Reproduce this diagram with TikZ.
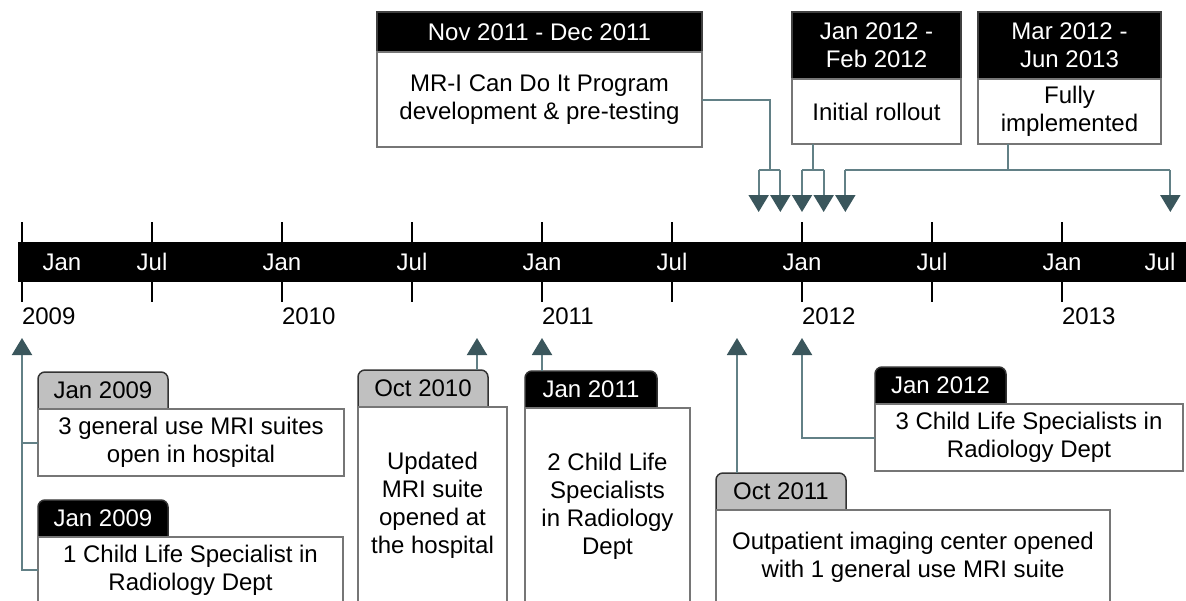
\documentclass[tikz,border=0pt]{standalone}
\usepackage{fontspec}
\setmainfont{Liberation Sans}
\usetikzlibrary{arrows.meta,backgrounds,calc}

\definecolor{slate}{RGB}{98,128,134}
\definecolor{slatedark}{RGB}{58,86,92}
\definecolor{tabgray}{RGB}{192,192,192}
\definecolor{boxline}{RGB}{118,118,118}

\begin{document}
\begin{tikzpicture}[x=1pt,y=-1pt,
  txt/.style={font=\fontsize{24}{28}\selectfont, inner sep=0pt, outer sep=0pt, align=center},
  bodybox/.style={txt, draw=boxline, line width=1.5pt, fill=white, anchor=north west},
  headbox/.style={txt, draw=black!75, line width=1.5pt, fill=black, text=white, anchor=north west},
  graytab/.style={txt, anchor=north west, minimum width=130pt, minimum height=37pt},
  blacktab/.style={graytab, text=white},
  conn/.style={draw=slate, line width=2pt},
  tip/.style={conn, -{Triangle[width=20pt,length=17pt,color=slatedark]}}]

\useasboundingbox (0,0) rectangle (1186,600);
\clip (0,0) rectangle (1186,600);

% time axis
\node[fill=black, inner sep=0pt, minimum width=1168pt, minimum height=40pt, anchor=north west] (bar) at (18,242) {};
\foreach \i in {0,...,8} {
  \draw[line width=1.5pt] ({22+130*\i},222) -- ++(0,20);
  \draw[line width=1.5pt] ({22+130*\i},282) -- ++(0,20);
}
\foreach \x/\m in {62/Jan,152/Jul,282/Jan,412/Jul,542/Jan,672/Jul,802/Jan,932/Jul,1062/Jan,1160/Jul}
  \node[txt, text=white] (m\x) at (\x,262) {\m};
\foreach \i/\y in {0/2009,2/2010,4/2011,6/2012,8/2013}
  \node[txt, anchor=west] (y\y) at ({22+130*\i},316) {\y};

% month points
\foreach \n/\m in {nov11/34,dec11/35,jan12/36,feb12/37,mar12/38,jun13/53}
  \coordinate (up-\n) at ({22+130/6*\m},212);
\foreach \n/\m in {jan09/0,oct10/21,jan11/24,oct11/33,jan12/36}
  \coordinate (dn-\n) at ({22+130/6*\m},338);

% program phases
\node[headbox, minimum width=325pt, minimum height=40pt] (hA) at (377,12) {Nov 2011 - Dec 2011};
\node[bodybox, minimum width=325pt, minimum height=95pt] (bA) at (hA.south west) {MR-I Can Do It Program\\development \& pre-testing};
\node[headbox, minimum width=169pt, minimum height=67pt] (hB) at (792,12) {Jan 2012 -\\Feb 2012};
\node[bodybox, minimum width=169pt, minimum height=65pt] (bB) at (hB.south west) {Initial rollout};
\node[headbox, minimum width=183pt, minimum height=67pt] (hC) at (978,12) {Mar 2012 -\\Jun 2013};
\node[bodybox, minimum width=183pt, minimum height=65pt] (bC) at (hC.south west) {Fully\\implemented};

\coordinate (jA) at ($(up-nov11)!.5!(up-dec11)+(0,-42)$);
\coordinate (jB) at ($(up-jan12)!.5!(up-feb12)+(0,-42)$);
\coordinate (jC) at ($(up-mar12)!.5!(up-jun13)+(0,-42)$);

\draw[conn] (bA.east) -| (jA);
\draw[conn] (bB.south -| jB) -- (jB);
\draw[conn] (bC.south -| jC) -- (jC);
\foreach \j/\a/\b in {jA/nov11/dec11,jB/jan12/feb12,jC/mar12/jun13} {
  \draw[conn] (\j -| up-\a) -- (\j -| up-\b);
  \draw[tip] (\j -| up-\a) -- (up-\a);
  \draw[tip] (\j -| up-\b) -- (up-\b);
}

% events
\node[graytab] (t1) at (38,372) {Jan 2009};
\node[bodybox, minimum width=306pt, minimum height=67pt] (b1) at (t1.south west) {3 general use MRI suites\\open in hospital};
\node[blacktab] (t2) at (38,500) {Jan 2009};
\node[bodybox, minimum width=305pt, minimum height=66pt] (b2) at (t2.south west) {1 Child Life Specialist in\\Radiology Dept};
\node[graytab] (t3) at (358,370) {Oct 2010};
\node[bodybox, minimum width=149pt, minimum height=196pt] (b3) at (t3.south west) {Updated\\MRI suite\\opened at\\the hospital};
\node[blacktab, minimum width=132pt] (t4) at (525,371) {Jan 2011};
\node[bodybox, minimum width=165pt, minimum height=196pt] (b4) at (t4.south west) {2 Child Life\\Specialists\\in Radiology\\Dept};
\node[graytab] (t5) at (716,473) {Oct 2011};
\node[bodybox, minimum width=394pt, minimum height=94pt] (b5) at (t5.south west) {Outpatient imaging center opened\\with 1 general use MRI suite};
\node[blacktab, minimum width=131pt] (t6) at (875,367) {Jan 2012};
\node[bodybox, minimum width=308pt, minimum height=67pt] (b6) at (t6.south west) {3 Child Life Specialists in\\Radiology Dept};

\begin{pgfonlayer}{background}
\fill[white] (0,0) rectangle (1186,600);
\foreach \t/\c in {t1/tabgray,t2/black,t3/tabgray,t4/black,t5/tabgray,t6/black}
  \draw[fill=\c, draw=black!80, line width=1.5pt, rounded corners=7pt] (\t.south west) -- (\t.north west) -- (\t.north east) -- (\t.south east);
\end{pgfonlayer}

\draw[conn] (b1.west) -- (b1.west -| dn-jan09);
\draw[tip] (b2.west) -| (dn-jan09);
\draw[tip] (t3.north -| dn-oct10) -- (dn-oct10);
\draw[tip] (t4.north -| dn-jan11) -- (dn-jan11);
\draw[tip] (t5.north -| dn-oct11) -- (dn-oct11);
\draw[tip] (b6.west) -| (dn-jan12);

\end{tikzpicture}
\end{document}
